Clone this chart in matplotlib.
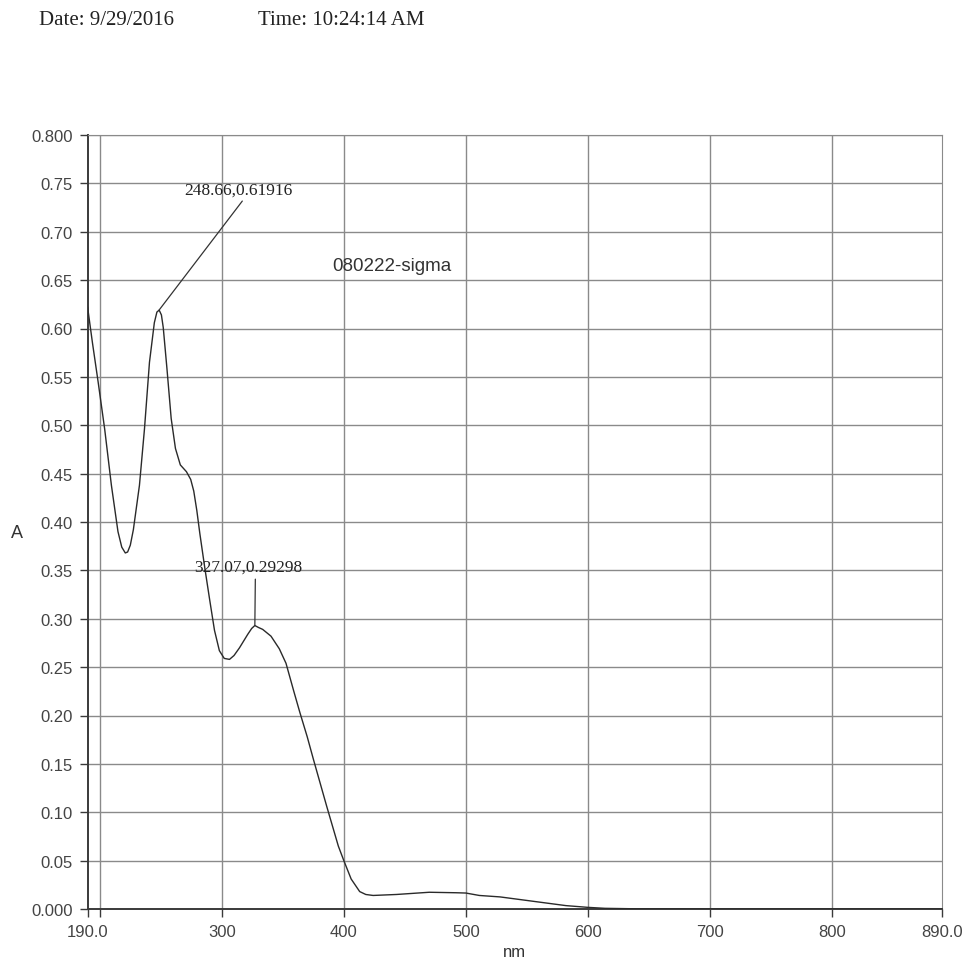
import matplotlib.pyplot as plt

# spectrum (nm, absorbance)
wavelength = [190, 194, 198.6, 204, 209.5, 214.9, 218, 220.9, 222.8, 225, 227.5, 232.5, 236.6,
              240.7, 244.7, 246.8, 248.66, 250.5, 252, 255, 258.5, 262, 266, 271,
              274.5, 277, 279.5, 282, 286, 290, 294, 298, 302, 306.3, 310, 314.5,
              321.3, 324.5, 327.07, 330, 333.5, 340.3, 347.1, 352.6, 359, 364, 370,
              375, 386, 395.5, 400, 406, 413, 418, 424, 443, 470, 492, 500, 511,
              528, 555, 582, 600, 614, 640, 700, 800, 890]
absorbance = [0.622, 0.585, 0.545, 0.496, 0.438, 0.390, 0.374, 0.368, 0.369, 0.376, 0.392, 0.438, 0.496,
              0.565, 0.606, 0.617, 0.619, 0.614, 0.601, 0.559, 0.507, 0.476, 0.459, 0.452,
              0.444, 0.432, 0.412, 0.388, 0.353, 0.320, 0.288, 0.267, 0.259, 0.258, 0.262, 0.270,
              0.284, 0.290, 0.293, 0.291, 0.289, 0.282, 0.269, 0.254, 0.225, 0.203, 0.178,
              0.155, 0.106, 0.065, 0.050, 0.031, 0.018, 0.015, 0.014, 0.015, 0.0173, 0.0168, 0.0165, 0.014,
              0.0125, 0.008, 0.0035, 0.0017, 0.0007, 0.0002, 0.0, 0.0, 0.0]

peaks = [(248.66, 0.61916), (327.07, 0.29298)]
peak_text_pos = [(313.9, 0.744), (321.3, 0.3535)]
peak_relpos = [(0.56, 0.0), (0.57, 0.0)]

xticks = [190, 200, 300, 400, 500, 600, 700, 800, 890]
xlabels = ['190.0', '', '300', '400', '500', '600', '700', '800', '890.0']
yticks = [i * 0.05 for i in range(17)]
ylabels = ['0.000'] + ['%.2f' % v for v in yticks[1:-1]] + ['0.800']

grid_c = '#8a8a8a'
dark = '#3a3a3a'
sans = 'Liberation Sans'
serif = 'Liberation Serif'

fig = plt.figure(figsize=(9.69, 9.62), dpi=100)
ax = fig.add_axes([87.6 / 969, 1 - 910 / 962, (941.7 - 87.6) / 969, (910 - 136) / 962])

ax.plot(wavelength, absorbance, color='#2a2a2a', lw=1.0, zorder=3)

ax.set_xlim(190, 890)
ax.set_ylim(0, 0.8)

ax.set_xticks(xticks)
ax.set_xticklabels(xlabels, fontsize=12, family=sans, color='#444444')
ax.set_yticks(yticks)
ax.set_yticklabels(ylabels, fontsize=12, family=sans, color='#444444')
ax.tick_params(direction='out', length=6, width=1.0, color=dark, pad=4.5)

for x in xticks[1:-1]:
    ax.axvline(x, color=grid_c, lw=1.0, zorder=1)
for y in yticks[1:]:
    ax.axhline(y, color=grid_c, lw=1.0, zorder=1)

ax.spines['left'].set_color(dark)
ax.spines['left'].set_linewidth(1.4)
ax.spines['bottom'].set_color(dark)
ax.spines['bottom'].set_linewidth(1.4)
ax.spines['top'].set_color(grid_c)
ax.spines['right'].set_color(grid_c)

for (px, py), (tx, ty), rp in zip(peaks, peak_text_pos, peak_relpos):
    ax.annotate('%.2f,%.5f' % (px, py), xy=(px, py), xytext=(tx, ty),
                ha='center', va='center', fontsize=12.5, family=serif, color='#222222',
                arrowprops=dict(arrowstyle='-', color='#333333', lw=0.9,
                                relpos=rp, shrinkA=1, shrinkB=0))

ax.text(390.8, 0.665, '080222-sigma', fontsize=13.5, family=sans, color='#333333',
        ha='left', va='center')

ax.set_xlabel('nm', fontsize=12, family=sans, color='#333333', labelpad=4)
fig.text(17 / 969, 1 - 533 / 962, 'A', fontsize=13, family=sans, color='#333333',
         ha='center', va='center')

fig.text(39 / 969, 1 - 25 / 962, 'Date: 9/29/2016', fontsize=15, family=serif,
         color='#222222', va='baseline')
fig.text(258 / 969, 1 - 25 / 962, 'Time: 10:24:14 AM', fontsize=15, family=serif,
         color='#222222', va='baseline')

fig.savefig('out.png', dpi=100)
